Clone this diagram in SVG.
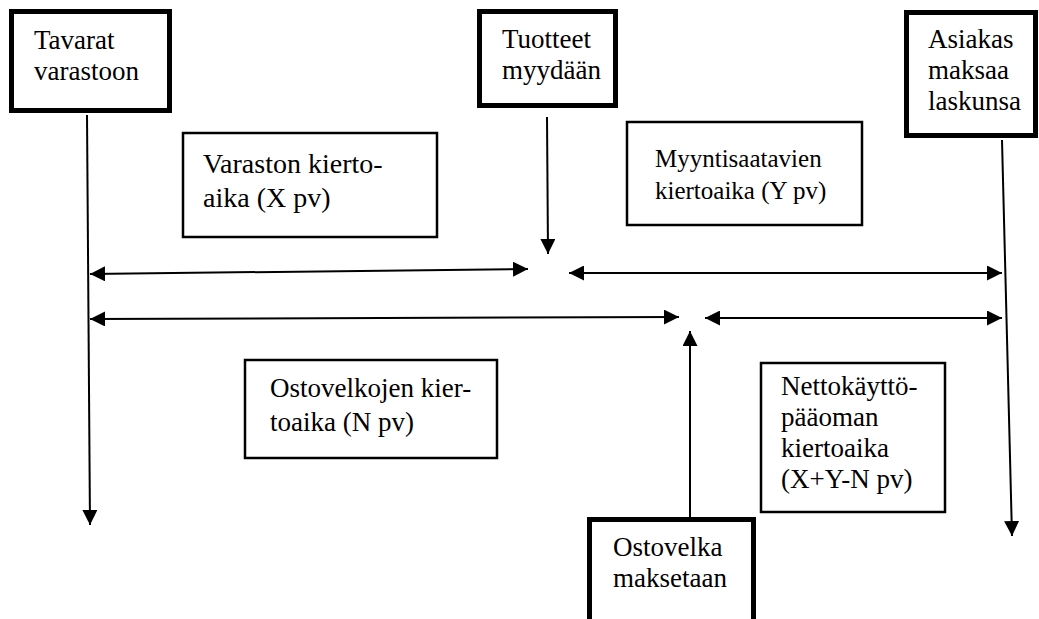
<svg xmlns="http://www.w3.org/2000/svg" width="1039" height="619" viewBox="0 0 1039 619">
<style>
text { font-family: "Liberation Serif", "Times New Roman", serif; font-size: 27px; fill: #000; }
.thick { fill: #fff; stroke: #000; stroke-width: 5; }
.thin { fill: #fff; stroke: #000; stroke-width: 2.5; }
.ln { fill: none; stroke: #000; stroke-width: 2; }
.one { marker-end: url(#ah); }
.two { marker-start: url(#ah); marker-end: url(#ah); }
</style>
<defs>
<marker id="ah" markerUnits="userSpaceOnUse" markerWidth="15" markerHeight="15" viewBox="0 0 15 15" refX="15" refY="7.5" orient="auto-start-reverse">
<path d="M0,0 L15,7.5 L0,15 z" fill="#000"/>
</marker>
</defs>
<rect width="1039" height="619" fill="#fff"/>
<g id="connectors">
<line class="ln one" x1="87" y1="115" x2="90" y2="525"/>
<line class="ln one" x1="547" y1="117" x2="548" y2="254"/>
<line class="ln one" x1="1002" y1="140" x2="1012" y2="536"/>
<line class="ln two" x1="90" y1="274" x2="528" y2="269"/>
<line class="ln two" x1="569" y1="273" x2="1002" y2="273"/>
<line class="ln two" x1="90" y1="319" x2="679" y2="317"/>
<line class="ln two" x1="705" y1="318" x2="1002" y2="318"/>
<line class="ln one" x1="690" y1="517" x2="690" y2="331"/>
</g>
<g id="tavarat">
<rect class="thick" x="11.5" y="11.5" width="158" height="99"/>
<text x="34" y="49">Tavarat</text>
<text x="34" y="80">varastoon</text>
</g>
<g id="tuotteet">
<rect class="thick" x="479.5" y="11.5" width="136" height="94"/>
<text x="502" y="48">Tuotteet</text>
<text x="502" y="79">myydään</text>
</g>
<g id="asiakas">
<rect class="thick" x="906.5" y="12.5" width="129" height="123"/>
<text x="928" y="48">Asiakas</text>
<text x="928" y="79">maksaa</text>
<text x="928" y="110">laskunsa</text>
</g>
<g id="varaston">
<rect class="thin" x="183" y="133" width="254" height="104"/>
<text x="203" y="173" style="font-size:28px">Varaston kierto-</text>
<text x="203" y="207" style="font-size:28px">aika (X pv)</text>
</g>
<g id="myynti">
<rect class="thin" x="627" y="122" width="235" height="103"/>
<text x="655" y="167" style="font-size:25px">Myyntisaatavien</text>
<text x="655" y="199" style="font-size:25px">kiertoaika (Y pv)</text>
</g>
<g id="ostovelkojen">
<rect class="thin" x="245" y="360" width="252" height="98"/>
<text x="270" y="397">Ostovelkojen kier-</text>
<text x="270" y="431">toaika (N pv)</text>
</g>
<g id="netto">
<rect class="thin" x="761" y="363" width="184" height="149"/>
<text x="781" y="395">Nettokäyttö-</text>
<text x="781" y="426">pääoman</text>
<text x="781" y="457">kiertoaika</text>
<text x="781" y="488">(X+Y-N pv)</text>
</g>
<g id="ostovelka">
<rect class="thick" x="589.5" y="519.5" width="164" height="110"/>
<text x="613" y="556">Ostovelka</text>
<text x="613" y="587">maksetaan</text>
</g>
</svg>
